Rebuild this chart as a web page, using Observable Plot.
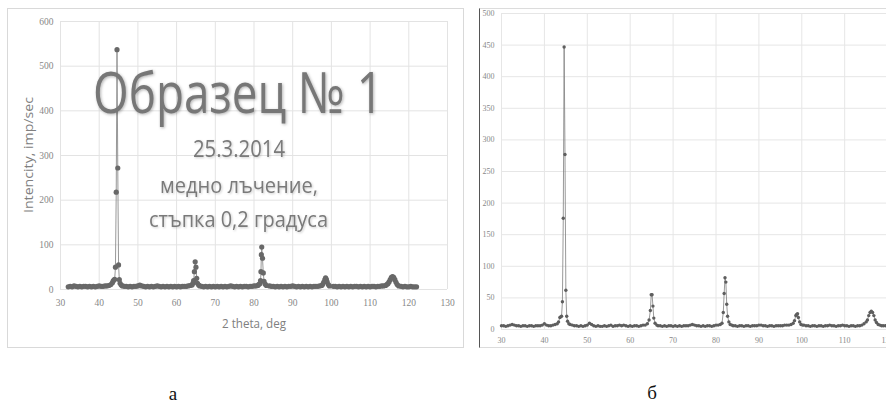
<!DOCTYPE html>
<html><head><meta charset="utf-8">
<script src="https://cdn.jsdelivr.net/npm/d3@7"></script>
<script src="https://cdn.jsdelivr.net/npm/@observablehq/plot@0.6"></script>
<style>
html,body{margin:0;padding:0;background:#fff;}
body{width:886px;height:408px;overflow:hidden;position:relative;}
.abs{position:absolute;}
.abs svg{max-width:none !important;}
.lbl{font-family:'Liberation Serif',serif;font-size:19px;color:#111;text-align:center;width:40px;}
</style></head>
<body>
<div id="chartA" class="abs" style="left:0;top:0"></div>
<div id="chartB" class="abs" style="left:470px;top:0"></div>
<div class="abs" style="left:7px;top:8px;width:455px;height:338px;border:1px solid #d9d9d9;"></div>
<div class="abs" style="left:479px;top:8px;width:420px;height:338px;border-top:1px solid #dcdcdc;border-bottom:1px solid #dcdcdc;border-left:1px solid #555;"></div>
<div id="overlay" class="abs" style="left:0;top:0"></div>
<div class="abs lbl" style="left:153px;top:383px">а</div>
<div class="abs lbl" style="left:632px;top:382px">б</div>
<script>
// ---- Panel а (left) ----
const thetaA = [
  32,32.5,33,33.5,34,34.5,35,35.5,36,36.5,37,37.5,38,38.5,39,39.5,40,40.5,41,41.5,42,42.5,43,
  43.4,43.6,43.8,44,44.2,44.4,44.6,44.8,45,45.2,45.4,45.7,46,
  46.5,47,47.5,48,48.5,49,49.5,50,50.5,51,51.5,52,52.5,53,53.5,54,54.5,55,55.5,56,56.5,57,57.5,58,58.5,59,59.5,60,60.5,61,61.5,62,62.5,63,63.5,64,
  64.2,64.4,64.6,64.8,65,65.2,65.4,65.7,66,
  66.5,67,67.5,68,68.5,69,69.5,70,70.5,71,71.5,72,72.5,73,73.5,74,74.5,75,75.5,76,76.5,77,77.5,78,78.5,79,79.5,80,80.5,81,81.2,
  81.5,81.7,81.8,81.9,82,82.2,82.4,82.6,82.9,83.2,
  84,84.5,85,85.5,86,86.5,87,87.5,88,88.5,89,89.5,90,90.5,91,91.5,92,92.5,93,93.5,94,94.5,95,95.5,96,96.5,97,97.5,97.7,
  98,98.3,98.5,98.7,98.9,99.2,99.5,
  100.5,101,101.5,102,102.5,103,103.5,104,104.5,105,105.5,106,106.5,107,107.5,108,108.5,109,109.5,110,110.5,111,111.5,112,112.5,113,113.5,114,114.3,
  114.6,114.9,115.2,115.5,115.8,116.1,116.4,116.7,117,117.4,
  118,118.5,119,119.5,120,120.5,121,121.5,122
];
const intensityA = [
  6,7,6,8,7,6,7,6,7,7,6,7,6,7,6,7,8,7,7,8,8,9,11,
  15,19,21,23,50,218,537,272,55,22,14,10,8,
  7,7,6,7,6,7,7,8,10,8,7,6,7,6,7,6,7,8,7,6,7,6,7,6,7,6,7,6,7,6,7,7,7,8,9,10,
  14,20,40,62,50,25,14,10,8,
  7,6,7,6,7,6,7,6,7,6,7,6,7,6,7,8,7,6,7,6,7,6,7,7,6,7,7,8,8,9,11,
  13,20,40,78,95,70,37,18,12,9,
  8,7,7,6,7,6,7,6,7,6,7,7,8,7,6,7,6,7,6,7,6,7,6,7,7,7,8,9,11,
  16,22,26,23,17,11,8,
  7,7,6,7,6,7,6,7,6,7,6,7,7,6,7,6,7,6,7,6,7,7,6,7,7,8,8,9,11,
  13,17,22,27,29,27,22,16,11,8,
  7,6,7,6,6,7,6,6,6
];
const xTicksA = [30,40,50,60,70,80,90,100,110,120,130];
const yTicksA = [0,100,200,300,400,500,600];

// ---- Panel б (right) ----
const thetaB = [
  30,30.5,31,31.5,32,32.5,33,33.5,34,34.5,35,35.5,36,36.5,37,37.5,38,38.5,39,39.5,40,40.5,41,41.5,42,42.5,43,
  43.3,43.6,43.8,44,44.2,44.4,44.6,44.8,45,45.2,45.4,45.7,46,
  46.5,47,47.5,48,48.5,49,49.5,50,50.5,51,51.5,52,52.5,53,53.5,54,54.5,55,55.5,56,56.5,57,57.5,58,58.5,59,59.5,60,60.5,61,61.5,62,62.5,63,63.5,64,
  64.4,64.7,64.9,65.1,65.3,65.5,65.8,66.2,
  66.5,67,67.5,68,68.5,69,69.5,70,70.5,71,71.5,72,72.5,73,73.5,74,74.5,75,75.5,76,76.5,77,77.5,78,78.5,79,79.5,80,80.5,81,81.4,
  81.7,81.9,82.1,82.3,82.5,82.7,83,83.3,83.7,
  84,84.5,85,85.5,86,86.5,87,87.5,88,88.5,89,89.5,90,90.5,91,91.5,92,92.5,93,93.5,94,94.5,95,95.5,96,96.5,97,97.5,98,
  98.3,98.6,98.8,99,99.2,99.5,99.8,100.2,
  100.5,101,101.5,102,102.5,103,103.5,104,104.5,105,105.5,106,106.5,107,107.5,108,108.5,109,109.5,110,110.5,111,111.5,112,112.5,113,113.5,114,114.5,
  115,115.3,115.6,115.9,116.2,116.5,116.8,117.1,117.4,117.8,118.2,118.6,
  119,119.5,120,120.5,121
];
const intensityB = [
  6,6,5,6,7,8,7,6,6,5,6,6,5,6,6,5,6,6,6,7,9,7,6,6,7,8,9,
  12,19,20,21,44,176,447,277,62,21,13,9,8,
  7,6,6,5,6,5,6,7,10,8,6,5,6,5,5,6,5,6,7,5,6,6,7,6,7,6,5,6,5,6,6,5,6,7,7,9,
  15,30,55,55,37,18,10,7,
  6,6,5,6,5,6,6,5,6,5,6,5,6,6,6,7,8,7,6,6,5,6,5,6,6,5,6,7,7,8,10,
  27,57,82,75,40,21,12,8,7,
  6,6,5,6,6,5,6,6,5,6,6,6,7,7,6,6,5,6,6,5,6,6,6,6,7,7,7,8,10,
  14,22,24,25,19,12,8,7,
  7,6,6,5,6,6,5,6,6,5,6,6,7,6,6,5,6,6,7,6,6,5,6,6,5,6,6,7,9,
  12,15,22,27,29,27,22,15,11,8,7,6,
  6,6,5,6,6
];
const xTicksB = [30,40,50,60,70,80,90,100,110,120,130];
const yTicksB = [0,50,100,150,200,250,300,350,400,450,500];

// ---- annotation texts ----
const titleA = "Образец № 1";
const notesA = ["25.3.2014", "медно лъчение,", "стъпка 0,2 градуса"];
const xLabelA = "2 theta, deg";
const yLabelA = "Intencity, imp/sec";

const dataA = thetaA.map((t, i) => ({theta: t, intensity: intensityA[i]}));
const dataB = thetaB.map((t, i) => ({theta: t, intensity: intensityB[i]}));

const chartA = Plot.plot({
  width: 470, height: 350,
  marginLeft: 60, marginRight: 23, marginTop: 21, marginBottom: 61,
  style: {background: "transparent", fontFamily: "'Liberation Serif', serif", fontSize: "9.5px", color: "#888"},
  x: {domain: [30, 130]},
  y: {domain: [0, 600]},
  marks: [
    Plot.gridX(xTicksA, {stroke: "#e3e3e3", strokeOpacity: 1}),
    Plot.gridY(yTicksA, {stroke: "#e3e3e3", strokeOpacity: 1}),
    Plot.axisX(xTicksA, {tickSize: 0, tickPadding: 10, label: null}),
    Plot.axisY(yTicksA, {tickSize: 0, tickPadding: 7, label: null}),
    Plot.line(dataA, {x: "theta", y: "intensity", stroke: "#8c8c8c", strokeWidth: 0.9}),
    Plot.dot(dataA, {x: "theta", y: "intensity", r: 2.6, fill: "#686868", stroke: "none"})
  ]
});
document.getElementById("chartA").append(chartA);

const chartB = Plot.plot({
  width: 470, height: 350,
  marginLeft: 31, marginRight: 10, marginTop: 13, marginBottom: 21,
  style: {background: "transparent", fontFamily: "'Liberation Serif', serif", fontSize: "8px", color: "#888"},
  x: {domain: [30, 130]},
  y: {domain: [0, 500]},
  marks: [
    Plot.gridX(xTicksB, {stroke: "#e6e6e6", strokeOpacity: 1}),
    Plot.gridY(yTicksB, {stroke: "#e6e6e6", strokeOpacity: 1}),
    Plot.axisX(xTicksB, {tickSize: 0, tickPadding: 8, label: null}),
    Plot.axisY(yTicksB, {tickSize: 0, tickPadding: 7, label: null}),
    Plot.line(dataB, {x: "theta", y: "intensity", stroke: "#7f7f7f", strokeWidth: 0.8}),
    Plot.dot(dataB, {x: "theta", y: "intensity", r: 1.7, fill: "#5e5e5e", stroke: "none"})
  ]
});
document.getElementById("chartB").append(chartB);

// overlay annotations on panel а
const ov = d3.select("#overlay").append("svg").attr("width", 470).attr("height", 350);
const fam = "'Open Sans', sans-serif";
ov.append("text").text(titleA)
  .attr("x", 93).attr("y", 113).attr("textLength", 290).attr("lengthAdjust", "spacingAndGlyphs")
  .attr("font-family", fam).attr("font-size", 57).attr("fill", "#777")
  .style("filter", "drop-shadow(1.5px 1.5px 1.5px rgba(0,0,0,0.3))");
const noteSpec = [
  {x: 193, y: 157, len: 92, size: 24},
  {x: 160, y: 193, len: 158, size: 21},
  {x: 149, y: 227, len: 179, size: 21}
];
notesA.forEach((s, i) => {
  const p = noteSpec[i];
  ov.append("text").text(s)
    .attr("x", p.x).attr("y", p.y).attr("textLength", p.len).attr("lengthAdjust", "spacingAndGlyphs")
    .attr("font-family", fam).attr("font-size", p.size).attr("fill", "#7a7a7a")
    .style("filter", "drop-shadow(1px 1px 1px rgba(0,0,0,0.2))");
});
ov.append("text").text(xLabelA)
  .attr("x", 222).attr("y", 328).attr("textLength", 64).attr("lengthAdjust", "spacingAndGlyphs")
  .attr("font-family", fam).attr("font-size", 13).attr("fill", "#808080");
ov.append("text").text(yLabelA)
  .attr("transform", "translate(33,213) rotate(-90)")
  .attr("textLength", 116).attr("lengthAdjust", "spacingAndGlyphs")
  .attr("font-family", fam).attr("font-size", 12).attr("fill", "#808080");
</script>
</body></html>
